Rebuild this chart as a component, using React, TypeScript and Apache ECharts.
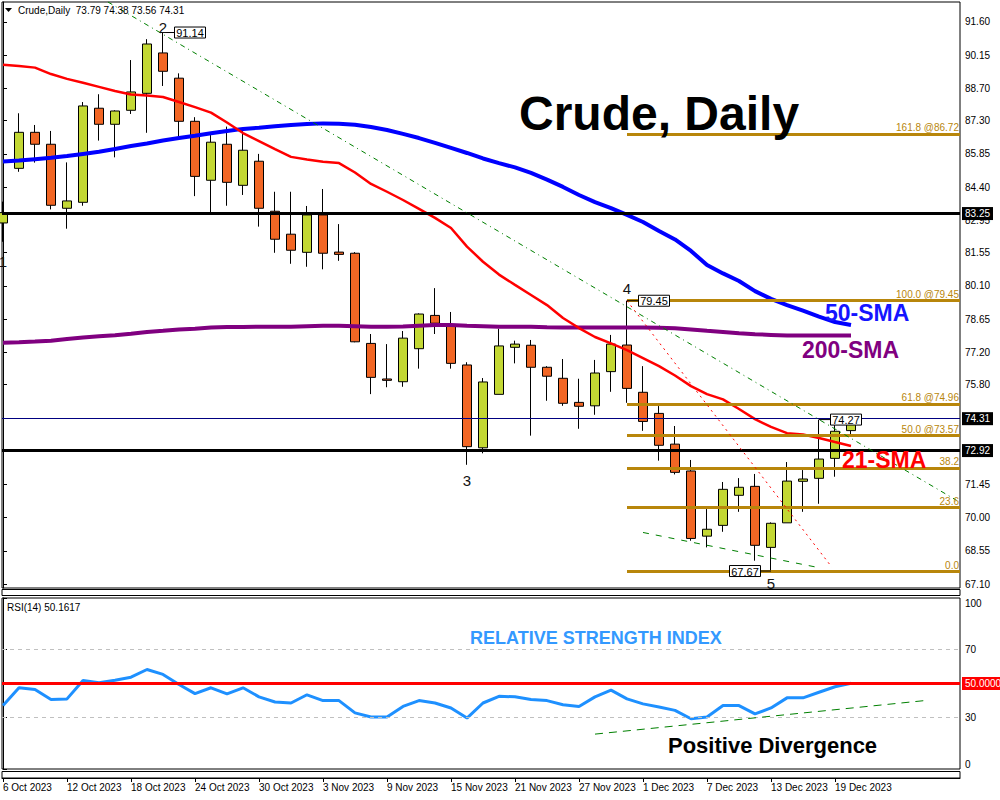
import React, { useEffect, useRef } from 'react';
import * as echarts from 'echarts';

// ---------- data ----------
const dates = [
  '6 Oct 2023', '9 Oct 2023', '10 Oct 2023', '11 Oct 2023', '12 Oct 2023', '13 Oct 2023',
  '16 Oct 2023', '17 Oct 2023', '18 Oct 2023', '19 Oct 2023', '20 Oct 2023',
  '23 Oct 2023', '24 Oct 2023', '25 Oct 2023', '26 Oct 2023', '27 Oct 2023',
  '30 Oct 2023', '31 Oct 2023', '1 Nov 2023', '2 Nov 2023', '3 Nov 2023',
  '6 Nov 2023', '7 Nov 2023', '8 Nov 2023', '9 Nov 2023', '10 Nov 2023',
  '13 Nov 2023', '14 Nov 2023', '15 Nov 2023', '16 Nov 2023', '17 Nov 2023',
  '20 Nov 2023', '21 Nov 2023', '22 Nov 2023', '23 Nov 2023', '24 Nov 2023',
  '27 Nov 2023', '28 Nov 2023', '29 Nov 2023', '30 Nov 2023', '1 Dec 2023',
  '4 Dec 2023', '5 Dec 2023', '6 Dec 2023', '7 Dec 2023', '8 Dec 2023',
  '11 Dec 2023', '12 Dec 2023', '13 Dec 2023', '14 Dec 2023', '15 Dec 2023',
  '18 Dec 2023', '19 Dec 2023', '20 Dec 2023',
];

const opens = [82.84, 85.22, 86.79, 86.27, 83.48, 83.74, 87.84, 87.14, 87.75, 88.49, 90.25, 89.15, 87.27, 84.70, 86.27, 84.48, 85.53, 83.35, 82.35, 81.56, 83.19, 81.57, 81.52, 77.59, 76.04, 75.92, 77.36, 78.81, 78.39, 76.65, 73.04, 75.37, 77.42, 77.51, 76.55, 76.07, 75.02, 74.87, 76.36, 77.52, 75.46, 74.54, 73.20, 72.03, 69.19, 69.66, 70.97, 71.36, 68.70, 69.77, 71.58, 71.71, 72.58, 73.79];
const highs = [83.77, 87.62, 87.11, 86.85, 85.48, 88.11, 88.45, 87.75, 89.94, 90.85, 91.14, 89.36, 87.45, 86.67, 87.04, 86.85, 85.85, 84.20, 84.20, 83.58, 84.32, 82.79, 81.57, 78.00, 77.56, 78.13, 78.90, 80.00, 78.96, 76.77, 76.08, 78.23, 77.71, 77.74, 76.60, 76.91, 76.05, 76.87, 77.96, 79.45, 76.60, 74.86, 73.99, 72.51, 70.37, 71.55, 71.72, 71.90, 69.79, 72.42, 72.07, 74.27, 74.10, 74.38];
const lows = [82.02, 85.07, 85.47, 83.43, 82.59, 83.59, 86.43, 85.70, 87.59, 86.77, 88.81, 86.60, 84.01, 83.26, 83.59, 84.06, 82.68, 81.54, 81.06, 80.93, 80.82, 81.19, 77.64, 75.38, 75.68, 75.70, 76.49, 78.00, 76.49, 72.30, 72.80, 75.37, 76.72, 73.57, 75.09, 74.87, 73.87, 74.48, 75.48, 75.00, 73.78, 72.48, 71.88, 68.99, 68.70, 69.38, 70.25, 68.12, 67.67, 69.77, 70.25, 70.60, 71.78, 73.56];
const closes = [83.29, 86.79, 86.27, 83.61, 83.80, 87.94, 87.14, 87.72, 88.55, 90.64, 89.45, 87.27, 84.87, 86.36, 84.61, 86.01, 83.48, 82.13, 81.65, 83.19, 81.52, 81.47, 77.66, 76.11, 75.98, 77.82, 78.87, 78.47, 76.72, 73.09, 75.91, 77.48, 77.56, 76.55, 76.16, 74.98, 74.85, 76.30, 77.56, 75.63, 74.19, 73.15, 71.97, 69.09, 69.49, 71.23, 71.32, 68.79, 69.75, 71.59, 71.68, 72.55, 73.76, 74.31];

const sma21 = [89.73, 89.68, 89.61, 89.33, 89.12, 88.95, 88.77, 88.59, 88.44, 88.40, 88.33, 88.11, 87.89, 87.65, 87.22, 86.76, 86.41, 86.06, 85.72, 85.61, 85.51, 85.45, 85.04, 84.54, 84.20, 83.84, 83.45, 83.06, 82.62, 81.81, 81.15, 80.59, 80.14, 79.70, 79.26, 78.70, 78.26, 77.87, 77.59, 77.30, 76.95, 76.60, 76.19, 75.73, 75.38, 75.15, 74.73, 74.29, 73.95, 73.68, 73.62, 73.47, 73.29, 73.12];
const sma50 = [85.52, 85.56, 85.62, 85.68, 85.76, 85.85, 85.94, 86.06, 86.19, 86.30, 86.43, 86.54, 86.64, 86.75, 86.85, 86.94, 86.99, 87.05, 87.11, 87.15, 87.18, 87.16, 87.12, 87.02, 86.89, 86.72, 86.54, 86.33, 86.11, 85.89, 85.65, 85.45, 85.26, 85.02, 84.73, 84.41, 84.06, 83.75, 83.49, 83.19, 82.88, 82.49, 82.12, 81.62, 81.01, 80.64, 80.31, 79.87, 79.53, 79.26, 79.02, 78.76, 78.52, 78.39];
const sma200 = [77.62, 77.64, 77.67, 77.71, 77.78, 77.85, 77.90, 77.95, 78.01, 78.09, 78.14, 78.20, 78.23, 78.28, 78.30, 78.31, 78.32, 78.32, 78.32, 78.34, 78.36, 78.36, 78.34, 78.32, 78.32, 78.33, 78.36, 78.39, 78.39, 78.36, 78.34, 78.32, 78.32, 78.32, 78.29, 78.28, 78.28, 78.28, 78.28, 78.28, 78.28, 78.27, 78.25, 78.20, 78.14, 78.09, 78.03, 77.99, 77.96, 77.93, 77.93, 77.93, 77.93, 77.93];
const rsi14 = [37.1, 47.5, 46.5, 40.6, 41.0, 51.8, 50.4, 51.9, 53.7, 58.2, 55.3, 49.4, 44.1, 47.5, 43.9, 47.5, 42.2, 39.2, 38.6, 43.4, 40.0, 40.0, 32.8, 30.4, 30.4, 36.6, 40.0, 38.6, 35.7, 29.8, 38.6, 42.5, 42.2, 40.6, 40.0, 37.6, 36.6, 42.2, 46.1, 41.0, 38.1, 36.3, 34.3, 29.4, 30.4, 37.1, 37.1, 32.2, 35.7, 41.6, 41.6, 44.9, 48.1, 50.16];

const priceTicks = [91.60, 90.15, 88.70, 87.30, 85.85, 84.40, 82.95, 81.55, 80.10, 78.65, 77.20, 75.80, 71.45, 70.00, 68.55, 67.10];
const rsiTicks = [0, 30, 70, 100];
const dateTickIdx = [0, 4, 8, 12, 16, 20, 24, 28, 32, 36, 40, 44, 48, 52];

const fibStartBar = 39;
const fibPrices = [86.72, 79.45, 74.96, 73.57, 72.17, 70.45, 67.67];
const fibLabels = ['161.8 @86.72', '100.0 @79.45', '61.8 @74.96', '50.0 @73.57', '38.2', '23.6', '0.0'];

const levelPrices = [83.25, 72.92];
const bidPrice = 74.31;

const trendDown = [[6.56, 92.47], [59.6, 70.75]];
const trendRed = [[39, 79.45], [51.8, 67.84]];
const trendLow = [[40, 69.35], [50.9, 67.83]];
const rsiTrend = [[37, 20.4], [57.6, 40.0]];

const pivotBars = [0, 10, 29, 39, 48];
const pivotPrices = [82.02, 91.14, 72.30, 79.45, 67.67];
const pivotNames = ['1', '2', '3', '4', '5'];
const tagBars = [10, 39, 48, 51];
const tagPrices = [91.14, 79.45, 67.67, 74.27];
const tagSides = [1, 1, -1, 1];

// ---------- layout / style ----------
const X_MIN = -0.0625;
const X_MAX = 59.8125;
const Y_MIN = 66.93;
const Y_MAX = 92.47;
const FONT = '"Liberation Sans", Arial, sans-serif';
const BULL = '#C3D834';
const BEAR = '#F26624';
const GOLD = '#B8860B';
const pivotOffsets = [20, -5, 16, -12, 12];

function buildOption(): any {
  const candleData = dates.map((_, i) => [i, opens[i], closes[i], lows[i], highs[i]]);
  const toXY = (arr: number[]) => arr.map((v, i) => [i, v]);

  const fibLines = fibPrices.map((p, k) => [
    {
      coord: [fibStartBar, p],
      lineStyle: { color: GOLD, width: 3, type: 'solid' },
      label: { show: true, formatter: fibLabels[k], position: 'insideEndTop', color: GOLD, fontSize: 10, fontFamily: FONT, distance: 1 },
    },
    { coord: [X_MAX, p] },
  ]);

  const levelLines = levelPrices.map((p) => ({
    yAxis: p,
    lineStyle: { color: '#000', width: 3, type: 'solid' },
    label: {
      show: true, position: 'end', formatter: p.toFixed(2), backgroundColor: '#000', color: '#fff',
      padding: [2, 3, 1, 3], fontSize: 10, fontFamily: FONT, distance: 2,
    },
  }));

  const bidLine = {
    yAxis: bidPrice,
    lineStyle: { color: '#000080', width: 1, type: 'solid' },
    label: {
      show: true, position: 'end', formatter: bidPrice.toFixed(2), backgroundColor: '#000', color: '#fff',
      padding: [2, 3, 1, 3], fontSize: 10, fontFamily: FONT, distance: 2,
    },
  };

  const pair = (pts: number[][], color: string, type: any) => [
    { coord: pts[0], lineStyle: { color, width: 1, type }, label: { show: false } },
    { coord: pts[1] },
  ];

  return {
    animation: false,
    backgroundColor: '#fff',
    textStyle: { fontFamily: FONT },
    grid: [
      { left: 2, top: 2, width: 958, height: 586, show: true, borderColor: '#000', borderWidth: 1, backgroundColor: '#fff' },
      { left: 2, top: 598, width: 958, height: 171, show: true, borderColor: '#000', borderWidth: 1, backgroundColor: '#fff' },
    ],
    xAxis: [
      {
        type: 'value', gridIndex: 0, min: X_MIN, max: X_MAX,
        axisLine: { show: false }, axisTick: { show: false }, axisLabel: { show: false }, splitLine: { show: false },
      },
      {
        type: 'value', gridIndex: 1, min: X_MIN, max: X_MAX, offset: 9,
        axisLine: { show: true, onZero: false, lineStyle: { color: '#000', width: 1 } },
        axisTick: { show: true, inside: false, length: 4, customValues: dateTickIdx, lineStyle: { color: '#000' } },
        axisLabel: {
          show: true, customValues: dateTickIdx, formatter: (v: number) => dates[Math.round(v)] || '',
          align: 'left', margin: 4, fontSize: 10, color: '#000', fontFamily: FONT,
        },
        splitLine: { show: false },
      },
    ],
    yAxis: [
      {
        type: 'value', gridIndex: 0, position: 'right', min: Y_MIN, max: Y_MAX,
        axisLine: { show: true, lineStyle: { color: '#000', width: 1 } },
        axisTick: { show: true, inside: false, length: 4, customValues: priceTicks, lineStyle: { color: '#000' } },
        axisLabel: {
          show: true, customValues: priceTicks, formatter: (v: number) => v.toFixed(2),
          margin: 5, fontSize: 10, color: '#000', fontFamily: FONT,
        },
        splitLine: { show: false },
      },
      {
        type: 'value', gridIndex: 1, position: 'right', min: 0, max: 100,
        axisLine: { show: true, lineStyle: { color: '#000', width: 1 } },
        axisTick: { show: true, inside: false, length: 4, customValues: rsiTicks, lineStyle: { color: '#000' } },
        axisLabel: {
          show: true, customValues: rsiTicks, margin: 5, fontSize: 10, color: '#000', fontFamily: FONT,
          verticalAlignMinLabel: 'bottom', verticalAlignMaxLabel: 'top',
        },
        splitLine: { show: false },
      },
    ],
    series: [
      {
        name: 'Crude', type: 'candlestick', xAxisIndex: 0, yAxisIndex: 0, data: candleData, barWidth: 10,
        itemStyle: { color: BULL, color0: BEAR, borderColor: '#000', borderColor0: '#000', borderWidth: 1 },
      },
      {
        name: '200-SMA', type: 'line', xAxisIndex: 0, yAxisIndex: 0, data: toXY(sma200), showSymbol: false,
        lineStyle: { color: '#800080', width: 4 },
      },
      {
        name: '50-SMA', type: 'line', xAxisIndex: 0, yAxisIndex: 0, data: toXY(sma50), showSymbol: false,
        lineStyle: { color: '#0000FF', width: 4 },
      },
      {
        name: '21-SMA', type: 'line', xAxisIndex: 0, yAxisIndex: 0, data: toXY(sma21), showSymbol: false,
        lineStyle: { color: '#FF0000', width: 2.5 },
        markLine: {
          silent: true, symbol: ['none', 'none'], animation: false, label: { show: false },
          data: [
            ...fibLines,
            ...levelLines,
            bidLine,
            pair(trendDown, '#008000', [5, 4, 1, 4]),
            pair(trendRed, '#FF0000', [2, 4]),
            pair(trendLow, '#008000', [6, 7]),
          ],
        },
      },
      {
        name: 'RSI(14)', type: 'line', xAxisIndex: 1, yAxisIndex: 1, data: toXY(rsi14), showSymbol: false,
        lineStyle: { color: '#1E90FF', width: 3 },
        markLine: {
          silent: true, symbol: ['none', 'none'], animation: false, label: { show: false },
          data: [
            { yAxis: 70, lineStyle: { color: '#C0C0C0', width: 1, type: [4, 4] }, label: { show: false } },
            { yAxis: 30, lineStyle: { color: '#C0C0C0', width: 1, type: [4, 4] }, label: { show: false } },
            {
              yAxis: 50, lineStyle: { color: '#FF0000', width: 3, type: 'solid' },
              label: {
                show: true, position: 'end', formatter: '50.0000', backgroundColor: '#FF0000', color: '#fff',
                padding: [2, 3, 1, 3], fontSize: 10, fontFamily: FONT, distance: 2,
              },
            },
            pair(rsiTrend, '#008000', [8, 6]),
          ],
        },
      },
    ],
  };
}

function txt(text: string, x: number, y: number, font: string, fill: string, align = 'left'): any {
  return {
    type: 'text', z: 100,
    style: { text, x, y, font, fill, textAlign: align, textVerticalAlign: 'middle' },
  };
}

export default function App() {
  const ref = useRef<HTMLDivElement>(null);
  useEffect(() => {
    if (!ref.current) return;
    const chart = echarts.init(ref.current, null, { renderer: 'svg' });
    chart.setOption(buildOption());

    const g: any[] = [];
    // separator strips
    g.push({ type: 'rect', z: 1, shape: { x: 2, y: 589.5, width: 958, height: 6 }, style: { fill: '#fff', stroke: '#000', lineWidth: 1 } });
    g.push({ type: 'rect', z: 1, shape: { x: 2, y: 771.5, width: 958, height: 6.5 }, style: { fill: '#fff', stroke: '#000', lineWidth: 1 } });
    // header
    g.push({ type: 'polygon', z: 100, shape: { points: [[5, 8], [12, 8], [8.5, 12]] }, style: { fill: '#000' } });
    g.push(txt('Crude,Daily  73.79 74.38 73.56 74.31', 18, 10.5, `10px ${FONT}`, '#000'));
    g.push(txt('RSI(14) 50.1617', 7, 607.5, `10px ${FONT}`, '#000'));
    // big annotations
    g.push(txt('Crude, Daily', 519, 113, `bold 48px ${FONT}`, '#000'));
    g.push(txt('50-SMA', 825, 312.5, `bold 23px ${FONT}`, '#1515FF'));
    g.push(txt('200-SMA', 802, 350, `bold 23px ${FONT}`, '#800080'));
    g.push(txt('21-SMA', 842, 460, `bold 23px ${FONT}`, '#FF0000'));
    g.push(txt('RELATIVE STRENGTH INDEX', 470, 638, `bold 18px ${FONT}`, '#3399FF'));
    g.push(txt('Positive Divergence', 668, 745, `bold 22px ${FONT}`, '#000'));

    // pivot numbers
    pivotBars.forEach((b, k) => {
      const p = chart.convertToPixel({ gridIndex: 0 }, [b, pivotPrices[k]]) as number[];
      g.push(txt(pivotNames[k], p[0], p[1] + pivotOffsets[k], `15px ${FONT}`, '#111', 'center'));
    });
    // price tags
    tagBars.forEach((b, k) => {
      const p = chart.convertToPixel({ gridIndex: 0 }, [b, tagPrices[k]]) as number[];
      const s = tagSides[k];
      const bx = s > 0 ? p[0] + 11 : p[0] - 11 - 31;
      g.push({ type: 'line', z: 99, shape: { x1: p[0], y1: p[1], x2: s > 0 ? bx : bx + 31, y2: p[1] }, style: { stroke: '#000', lineWidth: 1 } });
      g.push({ type: 'rect', z: 99, shape: { x: bx + 0.5, y: p[1] - 5.5, width: 31, height: 11 }, style: { fill: '#fff', stroke: '#000', lineWidth: 1 } });
      g.push(txt(tagPrices[k].toFixed(2), bx + 16, p[1] + 0.5, `11px ${FONT}`, '#000', 'center'));
    });

    chart.setOption({ graphic: g });
    return () => chart.dispose();
  }, []);
  return <div ref={ref} style={{ position: 'fixed', left: 0, top: 0, width: 1000, height: 800, background: '#fff' }} />;
}
